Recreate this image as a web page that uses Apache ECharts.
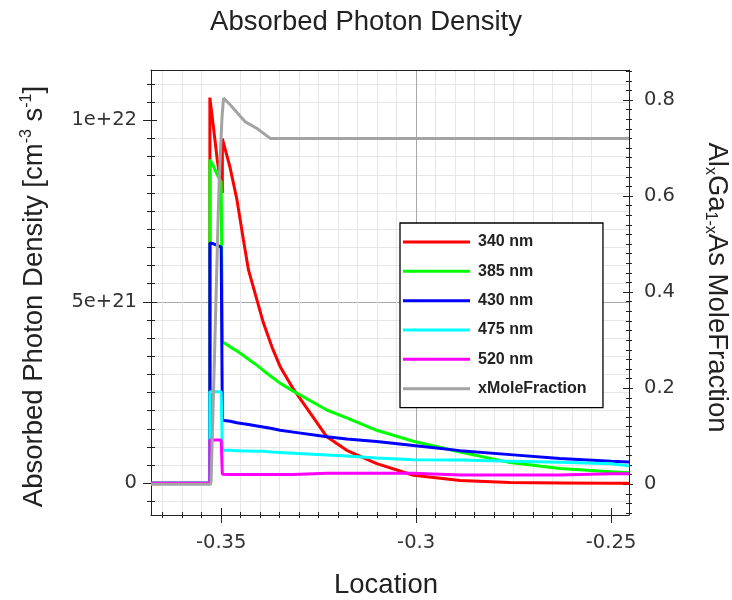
<!DOCTYPE html>
<html><head><meta charset="utf-8">
<script src="https://cdn.jsdelivr.net/npm/echarts@6/dist/echarts.min.js"></script>
<style>html,body{margin:0;padding:0;background:#fff}#c{width:732px;height:600px}</style>
</head><body><div id="c"></div>
<script>
// Location grid shared by the five wavelength series (duplicated x = vertical steps)
const loc = [-0.368, -0.3529, -0.3529, -0.3520, -0.3510, -0.3500, -0.3497, -0.3497, -0.3477, -0.3460, -0.3443, -0.3430, -0.3408, -0.3392, -0.3370, -0.3349, -0.3315, -0.3229, -0.3178, -0.3101, -0.3007, -0.2887, -0.2759, -0.2631, -0.2500, -0.2454];
const nm340 = [0, 0, 10.63e21, 9.83e21, 8.91e21, 8.2e21, 8.0e21, 9.5e21, 8.69e21, 7.84e21, 6.71e21, 5.88e21, 5.04e21, 4.43e21, 3.76e21, 3.22e21, 2.60e21, 1.28e21, 0.91e21, 0.54e21, 0.22e21, 0.08e21, 0.02e21, 0.01e21, 0, 0];
const nm385 = [0, 0, 8.92e21, 8.75e21, 8.5e21, 8.3e21, 8.25e21, 3.9e21, 3.76e21, 3.65e21, 3.52e21, 3.42e21, 3.25e21, 3.11e21, 2.93e21, 2.76e21, 2.54e21, 2.02e21, 1.80e21, 1.46e21, 1.16e21, 0.86e21, 0.57e21, 0.41e21, 0.32e21, 0.29e21];
const nm430 = [0, 0, 6.62e21, 6.60e21, 6.56e21, 6.51e21, 6.49e21, 1.74e21, 1.71e21, 1.67e21, 1.64e21, 1.62e21, 1.58e21, 1.55e21, 1.51e21, 1.46e21, 1.41e21, 1.28e21, 1.22e21, 1.15e21, 1.04e21, 0.90e21, 0.79e21, 0.68e21, 0.61e21, 0.59e21];
const nm475 = [0, 0, 2.52e21, 2.52e21, 2.52e21, 2.52e21, 2.52e21, 0.91e21, 0.91e21, 0.90e21, 0.89e21, 0.89e21, 0.88e21, 0.88e21, 0.86e21, 0.85e21, 0.83e21, 0.78e21, 0.75e21, 0.70e21, 0.65e21, 0.64e21, 0.61e21, 0.58e21, 0.54e21, 0.48e21];
const nm520 = [0, 0, 1.19e21, 1.19e21, 1.19e21, 1.19e21, 1.19e21, 0.25e21, 0.24e21, 0.24e21, 0.24e21, 0.24e21, 0.24e21, 0.24e21, 0.24e21, 0.24e21, 0.24e21, 0.28e21, 0.28e21, 0.28e21, 0.28e21, 0.23e21, 0.23e21, 0.23e21, 0.26e21, 0.26e21];
// Mole fraction profile
const moleLoc = [-0.368, -0.3528, -0.3526, -0.3517, -0.3508, -0.3505, -0.3498, -0.3494, -0.3477, -0.3439, -0.3409, -0.3374, -0.2454];
const moleFrac = [0, 0, 0.005, 0.27, 0.55, 0.633, 0.762, 0.804, 0.79, 0.755, 0.741, 0.72, 0.72];

const seriesNames = ['340 nm', '385 nm', '430 nm', '475 nm', '520 nm', 'xMoleFraction'];
const seriesColors = ['#ff0000', '#00ff00', '#0000ff', '#00ffff', '#ff00ff', '#a3a3a3'];
const xTicks = [-0.35, -0.3, -0.25];
const yTicks = [0, 5e21, 1e22];
const y2Ticks = [0, 0.2, 0.4, 0.6, 0.8];

const X_MIN = -0.368, X_MAX = -0.2454;
const Y_MIN = -0.874e21, Y_MAX = 11.39e21;
const Y2_MIN = -0.0639, Y2_MAX = 0.8624;

const tickFont = {fontFamily: 'DejaVu Sans', fontSize: 19.5, color: '#333'};
const nameFont = 'Liberation Sans';
const nameSize = 27.5;
const ink = '#222';

const chart = echarts.init(document.getElementById('c'), null, {renderer: 'canvas'});
const waveData = [nm340, nm385, nm430, nm475, nm520];
const series = waveData.map((arr, i) => ({
  name: seriesNames[i], type: 'line', xAxisIndex: 0, yAxisIndex: 0,
  symbol: 'none', showSymbol: false, animation: false,
  itemStyle: {color: seriesColors[i]},
  lineStyle: {color: seriesColors[i], width: 3},
  data: loc.map((x, j) => [x, arr[j]])
}));
series.push({
  name: seriesNames[5], type: 'line', xAxisIndex: 0, yAxisIndex: 2,
  symbol: 'none', showSymbol: false, animation: false,
  itemStyle: {color: seriesColors[5]},
  lineStyle: {color: seriesColors[5], width: 3},
  data: moleLoc.map((x, j) => [x, moleFrac[j]])
});

const baseX = {type: 'value', min: X_MIN, max: X_MAX, splitNumber: 2, gridIndex: 0};
const baseY = {type: 'value', min: Y_MIN, max: Y_MAX, splitNumber: 2, gridIndex: 0};
const baseY2 = {type: 'value', min: Y2_MIN, max: Y2_MAX, splitNumber: 4, gridIndex: 0};

chart.setOption({
  animation: false,
  backgroundColor: '#fff',
  title: {
    text: 'Absorbed Photon Density', left: 'center', top: 7, padding: [0, 0, 0, 5],
    textStyle: {fontFamily: nameFont, fontSize: 27.5, fontWeight: 'normal', color: ink, lineHeight: 30}
  },
  grid: {left: 151, right: 103, top: 70, bottom: 85, containLabel: false, outerBoundsMode: 'none'},
  legend: {
    orient: 'vertical', left: 400, top: 223, itemWidth: 67, itemHeight: 3, icon: 'rect',
    itemGap: 9.33, padding: [9, 16.5, 9, 3], borderColor: '#000', borderWidth: 1.3,
    backgroundColor: '#fff', selectedMode: false,
    textStyle: {fontFamily: nameFont, fontWeight: 'bold', fontSize: 16, color: ink, lineHeight: 20, padding: [0, 0, 0, 3]},
    data: seriesNames
  },
  xAxis: [
    Object.assign({}, baseX, {
      position: 'bottom',
      axisLine: {show: true, onZero: false, lineStyle: {color: ink, width: 1}},
      axisTick: {show: true, inside: false, length: 8, customValues: xTicks, lineStyle: {color: ink}},
      minorTick: {show: true, splitNumber: 10, length: 3, lineStyle: {color: ink}},
      axisLabel: Object.assign({customValues: xTicks, margin: 18}, tickFont),
      splitLine: {show: true, showMinLine: false, showMaxLine: false, lineStyle: {color: '#a8a8a8', width: 1}},
      minorSplitLine: {show: true, lineStyle: {color: '#e6e6e6', width: 1}},
      name: 'Location', nameLocation: 'middle', nameGap: 55,
      nameTextStyle: {fontFamily: nameFont, fontSize: nameSize, color: ink, lineHeight: 30, padding: [0, 8, 0, 0]}
    }),
    Object.assign({}, baseX, {
      position: 'bottom',
      axisLine: {show: false, onZero: false},
      axisTick: {show: true, inside: true, length: 7, customValues: xTicks, lineStyle: {color: ink}},
      minorTick: {show: true, splitNumber: 10, length: 3, lineStyle: {color: ink}},
      axisLabel: {show: false}, splitLine: {show: false}
    }),
    Object.assign({}, baseX, {
      position: 'top',
      axisLine: {show: true, onZero: false, lineStyle: {color: ink, width: 1}},
      axisTick: {show: false}, axisLabel: {show: false}, splitLine: {show: false}
    })
  ],
  yAxis: [
    Object.assign({}, baseY, {
      position: 'left',
      axisLine: {show: true, onZero: false, lineStyle: {color: ink, width: 1}},
      axisTick: {show: true, inside: false, length: 8, customValues: yTicks, lineStyle: {color: ink}},
      minorTick: {show: true, splitNumber: 10, length: 4, lineStyle: {color: ink}},
      axisLabel: Object.assign({
        customValues: yTicks, margin: 14,
        formatter: v => (v === 0 ? '0' : v.toExponential())
      }, tickFont),
      splitLine: {show: true, showMinLine: false, showMaxLine: false, lineStyle: {color: '#a8a8a8', width: 1}},
      minorSplitLine: {show: true, lineStyle: {color: '#e6e6e6', width: 1}},
      name: '{a|Absorbed Photon Density [cm}{sup|-3}{a| s}{sup|-1}{a|]}',
      nameLocation: 'middle', nameRotate: 90, nameGap: 102,
      nameTextStyle: {
        fontFamily: nameFont, fontSize: nameSize, color: ink, padding: [0, 8, 0, 0],
        rich: {
          a: {fontFamily: nameFont, fontSize: nameSize, color: ink, lineHeight: 30},
          sup: {fontFamily: nameFont, fontSize: 16, color: ink, lineHeight: 22, verticalAlign: 'top'}
        }
      }
    }),
    Object.assign({}, baseY, {
      position: 'left',
      axisLine: {show: false, onZero: false},
      axisTick: {show: true, inside: true, length: 6, customValues: yTicks, lineStyle: {color: ink}},
      minorTick: {show: true, splitNumber: 10, length: 4, lineStyle: {color: ink}},
      axisLabel: {show: false}, splitLine: {show: false}
    }),
    Object.assign({}, baseY2, {
      position: 'right',
      axisLine: {show: true, onZero: false, lineStyle: {color: ink, width: 1}},
      axisTick: {show: true, inside: false, length: 4, customValues: y2Ticks, lineStyle: {color: ink}},
      minorTick: {show: true, splitNumber: 10, length: 3, lineStyle: {color: ink}},
      axisLabel: Object.assign({customValues: y2Ticks, margin: 15}, tickFont),
      splitLine: {show: false},
      name: '{a|Al}{sub|x}{a|Ga}{sub|1-x}{a|As MoleFraction}',
      nameLocation: 'middle', nameRotate: -90, nameGap: 73,
      nameTextStyle: {
        fontFamily: nameFont, fontSize: nameSize, color: ink, padding: [0, 10, 0, 0],
        rich: {
          a: {fontFamily: nameFont, fontSize: nameSize, color: ink, lineHeight: 30},
          sub: {fontFamily: nameFont, fontSize: 16, color: ink, lineHeight: 15, verticalAlign: 'bottom'}
        }
      }
    }),
    Object.assign({}, baseY2, {
      position: 'right',
      axisLine: {show: false, onZero: false},
      axisTick: {show: true, inside: true, length: 6, customValues: y2Ticks, lineStyle: {color: ink}},
      minorTick: {show: true, splitNumber: 10, length: 3, lineStyle: {color: ink}},
      axisLabel: {show: false}, splitLine: {show: false}
    })
  ],
  series: series
});
</script>
</body></html>
